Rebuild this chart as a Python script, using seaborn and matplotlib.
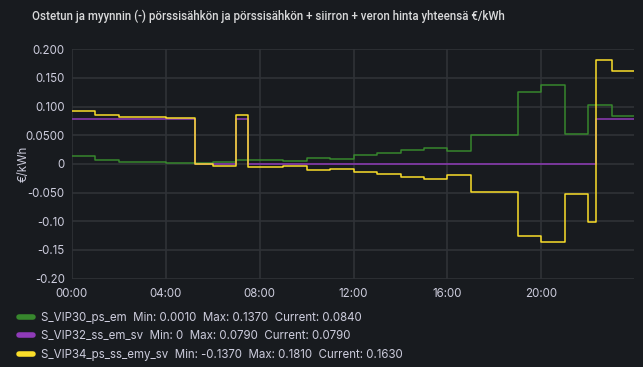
import matplotlib
matplotlib.use("Agg")
import matplotlib.pyplot as plt
import seaborn as sns
import pandas as pd
from matplotlib.ticker import FixedLocator, FixedFormatter

# ---- data (hours of day, step values) ----
green_t = [0, 1, 2, 3, 4, 5, 6, 7, 8, 9, 10, 11, 12, 13, 14, 15, 16, 17, 18, 19, 20, 21, 22, 23, 23.92]
green_v = [0.014, 0.006, 0.004, 0.003, 0.002, 0.001, 0.004, 0.007, 0.006, 0.005, 0.0105, 0.009,
           0.016, 0.019, 0.025, 0.027, 0.022, 0.050, 0.050, 0.126, 0.137, 0.053, 0.102, 0.084, 0.084]

purple_t = [0, 5.25, 7.0, 7.52, 22.34, 23.92]
purple_v = [0.079, 0.0, 0.079, 0.0, 0.079, 0.079]

yellow_t = [0, 1, 2, 3, 4, 5.25, 6, 7, 7.52, 8, 9, 10, 11, 12, 13, 14, 15, 16, 17, 18, 19, 20, 21, 22,
            22.34, 23, 23.92]
yellow_v = [0.093, 0.085, 0.082, 0.081, 0.080, -0.001, -0.003, 0.086, -0.006, -0.005, -0.004, -0.010,
            -0.009, -0.015, -0.018, -0.023, -0.026, -0.020, -0.049, -0.049, -0.126, -0.137, -0.053,
            -0.102, 0.181, 0.163, 0.163]

series_names = ["S_VIP30_ps_em", "S_VIP32_ss_em_sv", "S_VIP34_ps_ss_emy_sv"]
series_stats = ["Min: 0.0010  Max: 0.1370  Current: 0.0840",
                "Min: 0  Max: 0.0790  Current: 0.0790",
                "Min: -0.1370  Max: 0.1810  Current: 0.1630"]
colors = ["#37872d", "#8f3bb8", "#fade2a"]

x_ticks = [0, 4, 8, 12, 16, 20]
x_labels = ["00:00", "04:00", "08:00", "12:00", "16:00", "20:00"]
y_ticks = [0.2, 0.15, 0.1, 0.05, 0, -0.05, -0.1, -0.15, -0.2]
y_labels = ["0.200", "0.150", "0.100", "0.0500", "0", "-0.050", "-0.10", "-0.15", "-0.20"]

title = "Ostetun ja myynnin (-) pörssisähkön ja pörssisähkön + siirron + veron hinta yhteensä €/kWh"

# ---- style ----
bg = "#181b1f"
txt = "#ccccdc"
grid = "#2f3237"
sns.set_theme(style="dark")
plt.rcParams["font.family"] = ["Inter", "DejaVu Sans"]

fig = plt.figure(figsize=(6.43, 3.67), dpi=100, facecolor=bg)
ax = fig.add_axes([71.7 / 643, 1 - 278.5 / 367, (633.5 - 71.7) / 643, (278.5 - 49.3) / 367])
ax.set_facecolor(bg)

frames = [
    pd.DataFrame({"t": green_t, "v": green_v}),
    pd.DataFrame({"t": purple_t, "v": purple_v}),
    pd.DataFrame({"t": yellow_t, "v": yellow_v}),
]
for df, c, n, s in zip(frames, colors, series_names, series_stats):
    sns.lineplot(data=df, x="t", y="v", ax=ax, color=c, linewidth=1.1,
                 drawstyle="steps-post", label=f"{n}  {s}", zorder=3)

ax.set_xlim(0, 23.92)
ax.set_ylim(-0.2, 0.2)
ax.xaxis.set_major_locator(FixedLocator(x_ticks))
ax.xaxis.set_major_formatter(FixedFormatter(x_labels))
ax.yaxis.set_major_locator(FixedLocator(y_ticks))
ax.yaxis.set_major_formatter(FixedFormatter(y_labels))
ax.grid(True, color=grid, linewidth=1.2)
for sp in ax.spines.values():
    sp.set_visible(False)
ax.tick_params(axis="both", colors=txt, labelsize=8.3, length=0)
ax.tick_params(axis="y", pad=5)
ax.tick_params(axis="x", pad=7)
ax.set_xlabel("")
ax.set_ylabel("€/kWh", color=txt, fontsize=8.3, labelpad=-3)

fig.text(268 / 643, 1 - 16 / 367, title, ha="center", va="center", color="#d8d9da",
         fontsize=8.3, fontweight="medium", family=["Roboto", "DejaVu Sans"])

leg = ax.legend(loc="upper left", bbox_to_anchor=(19 / 643, 1 - 312 / 367),
                bbox_transform=fig.transFigure, frameon=False, fontsize=8.3,
                handlelength=1.2, handletextpad=0.75, labelspacing=0.55,
                borderpad=0, borderaxespad=0)
for t in leg.get_texts():
    t.set_color(txt)
for h in leg.get_lines():
    h.set_linewidth(4)

fig.savefig("out.png", dpi=100, facecolor=bg)
